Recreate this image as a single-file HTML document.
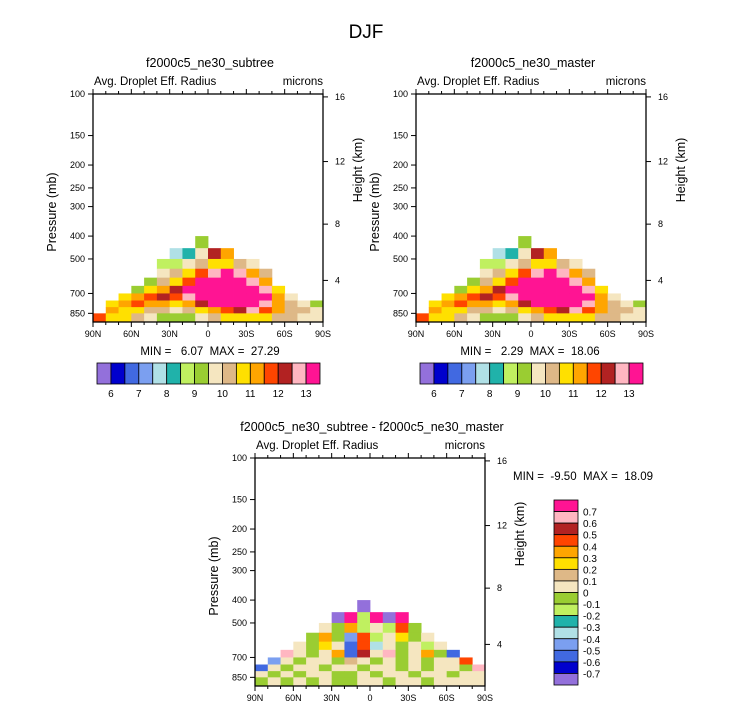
<!DOCTYPE html>
<html><head><meta charset="utf-8"><style>
body{margin:0;background:#fff;}
svg{display:block;font-family:"Liberation Sans",Helvetica,sans-serif;}
</style></head><body>
<svg id="fig" width="733" height="711" viewBox="0 0 733 711">
<text x="366" y="38" font-size="19" text-anchor="middle">DJF</text>
</svg>
<script>
// ---------- data ----------
const latLabels = ["90N","60N","30N","0","30S","60S","90S"];
const pressureTicks = [100,150,200,250,300,400,500,700,850];
const heightTicks = [4,8,12,16];
const levelEdges = [400,450,500,550,600,650,700,750,800,850,925];
const latEdges = [90,80,70,60,50,40,30,20,10,0,-10,-20,-30,-40,-50,-60,-70,-80,-90];
const N = null;
const subtreeVals = [
 [N,N,N,N,N,N,N,N,9,N,N,N,N,N,N,N,N,N],
 [N,N,N,N,N,N,7.5,8.2,9.5,12,11,N,N,N,N,N,N,N],
 [N,N,N,N,N,8.8,8.7,9.5,10.2,10.6,10.8,10.3,9.8,N,N,N,N,N],
 [N,N,N,N,N,9.8,10.2,10.6,11.5,12.8,13.5,12.6,11.2,10.2,N,N,N,N],
 [N,N,N,N,9.3,10.3,10.8,11.5,13.2,14,14,13.8,12.8,11.2,N,N,N,N],
 [N,N,N,9.3,10.6,11.2,12.2,13.2,14,14,14,14,13.8,12.8,10.5,N,N,N],
 [N,N,10.6,11,11.5,12,11.8,12.5,13.5,14,14,14,14,13.5,11,9.8,N,N],
 [N,10.8,11.2,11.5,11.3,11,10.8,11.3,12.3,13,13.8,14,14,12.8,11.2,10.3,9.8,9.3],
 [N,11,10.8,10.6,10.3,10,9.7,10,10.6,11.2,11.8,12.2,12.5,11.5,11,10.3,10,9.8],
 [11.5,10.8,10.5,10,9.5,9.3,9,9.3,9.8,10.3,10.5,10.6,10.8,10.6,10.4,10.2,9.8,9.5]
];
const masterVals = [
 [N,N,N,N,N,N,N,N,9,N,N,N,N,N,N,N,N,N],
 [N,N,N,N,N,N,7.5,8.2,9.5,12,11,N,N,N,N,N,N,N],
 [N,N,N,N,N,8.8,8.7,9.5,10.2,10.6,10.8,10.3,9.8,N,N,N,N,N],
 [N,N,N,N,N,9.8,10.2,10.6,11.5,12.8,13.5,12.6,11.2,10.2,N,N,N,N],
 [N,N,N,N,9.3,10.3,10.8,11.5,13.2,14,14,13.8,12.8,11.2,N,N,N,N],
 [N,N,N,9.3,10.6,11.2,12.2,13.2,14,14,14,14,13.8,12.8,10.5,N,N,N],
 [N,N,10.6,11,11.5,12,11.8,12.5,13.5,14,14,14,14,13.5,11,9.8,N,N],
 [N,10.8,11.2,11.5,11.3,11,10.8,11.3,12.3,13,13.8,14,14,12.8,11.2,10.3,9.8,9.3],
 [N,11,10.8,10.6,10.3,10,9.7,10,10.6,11.2,11.8,12.2,12.5,11.5,11,10.3,10,9.8],
 [11.5,10.8,10.5,10,9.5,9.3,9,9.3,9.8,10.3,10.5,10.6,10.8,10.6,10.4,10.2,9.8,9.5]
];
const diffVals = [
 [N,N,N,N,N,N,N,N,-0.8,N,N,N,N,N,N,N,N,N],
 [N,N,N,N,N,N,-0.8,0.75,-0.15,0.8,-0.8,0.8,N,N,N,N,N,N],
 [N,N,N,N,N,0.05,-0.05,0.3,-0.15,0.05,-0.2,0.4,-0.05,N,N,N,N,N],
 [N,N,N,N,-0.05,0.3,-0.1,-0.5,0.4,-0.15,0.05,0.2,-0.05,0.05,N,N,N,N],
 [N,N,N,0.05,-0.05,0.2,0.05,-0.6,0.45,-0.35,0.05,-0.05,0.05,-0.15,0.05,N,N,N],
 [N,N,0.6,0.05,-0.05,0.05,0.35,-0.55,0.5,0.05,0.6,-0.05,0.05,0.3,-0.05,-0.6,N,N],
 [N,-0.5,0.05,-0.05,0.05,0.05,-0.05,0.15,0.05,-0.05,0.05,-0.05,0.05,-0.05,0.05,0.05,0.45,N],
 [-0.6,0.05,-0.05,0.05,0.05,-0.05,0.05,0.05,-0.05,0.05,0.05,-0.05,0.05,-0.05,0.05,0.05,-0.05,0.6],
 [0.05,-0.05,0.05,-0.05,0.05,0.05,-0.05,-0.05,0.05,-0.05,0.05,0.05,-0.05,0.05,0.05,-0.05,0.05,0.05],
 [-0.05,0.05,-0.05,0.05,-0.05,0.05,-0.05,-0.05,0.05,0.05,-0.05,0.05,0.05,-0.05,0.05,0.05,0.05,0.05]
];
const absLevels = [6,6.5,7,7.5,8,8.5,9,9.5,10,10.5,11,11.5,12,12.5,13];
const absLabels = ["6","7","8","9","10","11","12","13"];
const diffLevels = [-0.7,-0.6,-0.5,-0.4,-0.3,-0.2,-0.1,0,0.1,0.2,0.3,0.4,0.5,0.6,0.7];
const diffLabels = ["-0.7","-0.6","-0.5","-0.4","-0.3","-0.2","-0.1","0","0.1","0.2","0.3","0.4","0.5","0.6","0.7"];
const colors = ["#9370DB","#0000CD","#4169E1","#7B9FF0","#B0E0E6","#20B2AA","#C0F060","#9ACD32","#F5E6C0","#DEB887","#FFE000","#FFA500","#FF4500","#B22222","#FFB6C1","#FF1493"];

// ---------- drawing ----------
const NS="http://www.w3.org/2000/svg";
const svg=document.getElementById('fig');
function mk(tag,attrs,parent){const e=document.createElementNS(NS,tag);for(const k in attrs)e.setAttribute(k,attrs[k]);(parent||svg).appendChild(e);return e;}
function txt(x,y,s,size,anchor,parent){const t=mk('text',{x:x,y:y,'font-size':size,'text-anchor':anchor||'middle'},parent);t.textContent=s;return t;}
function colorIdx(v,lv){let i=0;while(i<lv.length&&v>=lv[i])i++;return i;}
function hToP(z){z*=1000;if(z<=11000)return 1013.25*Math.pow(1-2.25577e-5*z,5.2559);return 226.32*Math.exp(-(z-11000)/6341.6);}

function panel(name,x0,y0,title,vals,levels){
  const W=230,H=228,K=236;
  const g=mk('g',{});
  
  
  const xs=lat=>x0+(90-lat)/180*W;
  const ys=p=>y0+K*Math.log10(p/100);
  for(let r=0;r<vals.length;r++)for(let c=0;c<vals[r].length;c++){
    const v=vals[r][c]; if(v===null)continue;
    const x1=xs(latEdges[c]),x2=xs(latEdges[c+1]);
    const y1=ys(levelEdges[r]),y2=Math.min(ys(levelEdges[r+1]),y0+H);
    const rc=mk('rect',{x:x1,y:y1,width:x2-x1+0.4,height:y2-y1+0.4,fill:colors[colorIdx(v,levels)]},g);
    
    
  }
  const fr=mk('rect',{x:x0,y:y0,width:W,height:H,fill:'none',stroke:'#000','stroke-width':1.3},g);
  
  
  for(let lat=90;lat>=-90;lat-=10){
    const x=xs(lat),major=lat%30===0,len=major?5:3;
    mk('line',{x1:x,y1:y0+H,x2:x,y2:y0+H+len,stroke:'#000','stroke-width':1},g);
    mk('line',{x1:x,y1:y0,x2:x,y2:y0-len,stroke:'#000','stroke-width':1},g);
  }
  latLabels.forEach((s,i)=>{const t=txt(xs(90-30*i),y0+H+15,s,9,'middle',g);
    });
  pressureTicks.forEach(p=>{const y=ys(p);
    mk('line',{x1:x0-5,y1:y,x2:x0,y2:y,stroke:'#000','stroke-width':1},g);
    const t=txt(x0-8,y+3,String(p),9,'end',g);
    });
  heightTicks.forEach(h=>{const y=ys(hToP(h));
    mk('line',{x1:x0+W,y1:y,x2:x0+W+5,y2:y,stroke:'#000','stroke-width':1},g);
    const t=txt(x0+W+12,y+3,String(h),9,'start',g);
    });
  const yt=txt(0,0,'Pressure (mb)',12.5,'middle',g);
  yt.setAttribute('transform',`translate(${x0-37},${y0+H/2+4}) rotate(-90)`);
  
  const ht=txt(0,0,'Height (km)',12.5,'middle',g);
  ht.setAttribute('transform',`translate(${x0+W+39},${y0+H/2-38}) rotate(-90)`);
  
  const pt=txt(x0+W/2+2,y0-27,title,12.5,'middle',g);
  
  const lt=txt(x0+1,y0-9,'Avg. Droplet Eff. Radius',11.5,'start',g);
  
  const rt=txt(x0+W,y0-9,'microns',11.5,'end',g);
  
}
panel('panel-subtree',93,94,'f2000c5_ne30_subtree',subtreeVals,absLevels);
panel('panel-master',416,94,'f2000c5_ne30_master',masterVals,absLevels);
panel('panel-difference',255,458,'f2000c5_ne30_subtree - f2000c5_ne30_master',diffVals,diffLevels);

function minmax(x,y,s,anchor,name){const t=txt(x,y,s,11.5,anchor);t.setAttribute('xml:space','preserve');t.style.whiteSpace='pre';
  }
minmax(210,355,'MIN =   6.07  MAX =  27.29','middle','minmax-subtree');
minmax(530,355,'MIN =   2.29  MAX =  18.06','middle','minmax-master');
minmax(513,480,'MIN =  -9.50  MAX =  18.09','start','minmax-difference');

function hbar(name,x0,y0){
  const g=mk('g',{});
  const w=223/colors.length;
  colors.forEach((c,i)=>{const r=mk('rect',{x:x0+i*w,y:y0,width:w,height:21,fill:c,stroke:'#000','stroke-width':0.8},g);
    });
  absLabels.forEach((s,i)=>{const t=txt(x0+(2*i+1)*w,y0+34,s,10,'middle',g);
    });
}
hbar('colorbar-subtree',97,363);
hbar('colorbar-master',420,363);
(function(){
  const g=mk('g',{});
  const x0=554,y0=500,h=185/colors.length;
  colors.slice().reverse().forEach((c,i)=>{const r=mk('rect',{x:x0,y:y0+i*h,width:24,height:h,fill:c,stroke:'#000','stroke-width':0.8},g);
    });
  diffLabels.slice().reverse().forEach((s,i)=>{const t=txt(x0+29,y0+(i+1)*h+4,s,10,'start',g);
    });
})();
</script>
</body></html>
